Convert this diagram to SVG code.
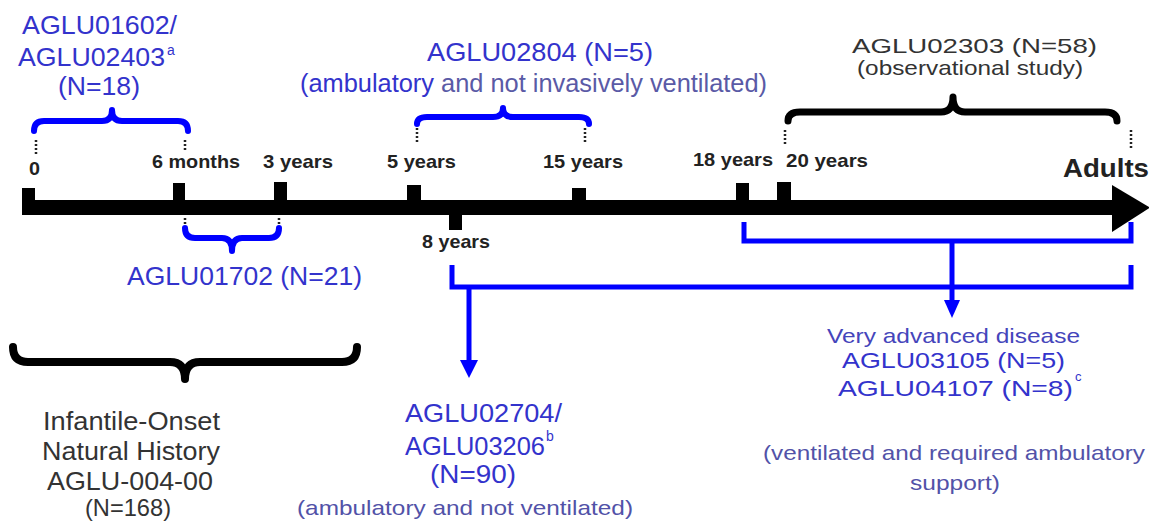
<svg xmlns="http://www.w3.org/2000/svg" width="1149" height="523" viewBox="0 0 1149 523">
<style>
text{font-family:"Liberation Sans",Arial,sans-serif}
.b{fill:#3333cc;font-size:25px}
.m{fill:#5252a8;font-size:21px}
.g{fill:#333333;font-size:25px}
.gs{fill:#333333;font-size:21px}
.t{fill:#222222;font-size:19px;font-weight:bold}
.sup{font-size:14px}
.bl{fill:none;stroke:#0000ff;stroke-width:5}
.br{fill:none;stroke:#0000ff;stroke-width:6;stroke-linecap:round;stroke-linejoin:round}
.bk{fill:none;stroke:#000;stroke-width:7;stroke-linecap:round;stroke-linejoin:round}
.dot{fill:none;stroke:#222;stroke-width:2.5;stroke-dasharray:2 2}
.tick{fill:#000}
</style>

<g id="axis">
  <rect class="tick" x="22" y="200" width="1093" height="15"/>
  <polygon class="tick" points="1112,185 1150,207.5 1112,232"/>
  <rect class="tick" x="22" y="188" width="13" height="27"/>
  <rect class="tick" x="173" y="183" width="12" height="20"/>
  <rect class="tick" x="274" y="182" width="13" height="21"/>
  <rect class="tick" x="407" y="185" width="14" height="18"/>
  <rect class="tick" x="572" y="188" width="14" height="15"/>
  <rect class="tick" x="449" y="212" width="13" height="18"/>
  <rect class="tick" x="736" y="183" width="13" height="20"/>
  <rect class="tick" x="777" y="182" width="14" height="21"/>
  <path class="dot" d="M36,140V155 M185,140V152 M185,218V233 M279,218V233 M417,128V143 M585,128V143 M785,130V144 M1131,130V148"/>
  <text class="t" x="29" y="175" textLength="11" lengthAdjust="spacingAndGlyphs">0</text>
  <text class="t" x="152" y="168" textLength="88" lengthAdjust="spacingAndGlyphs">6 months</text>
  <text class="t" x="263" y="168" textLength="70" lengthAdjust="spacingAndGlyphs">3 years</text>
  <text class="t" x="387" y="168" textLength="69" lengthAdjust="spacingAndGlyphs">5 years</text>
  <text class="t" x="543" y="168" textLength="80" lengthAdjust="spacingAndGlyphs">15 years</text>
  <text class="t" x="693" y="166" textLength="80" lengthAdjust="spacingAndGlyphs">18 years</text>
  <text class="t" x="786" y="167" textLength="82" lengthAdjust="spacingAndGlyphs">20 years</text>
  <text class="t" x="422" y="248" textLength="68" lengthAdjust="spacingAndGlyphs">8 years</text>
  <text class="t" x="1063" y="177" style="font-size:25px" textLength="86" lengthAdjust="spacingAndGlyphs">Adults</text>
</g>

<g id="node-aglu01602">
  <path class="br" d="M34,131 Q34,121 44,121 L102,121 Q112,121 112,110 Q112,121 122,121 L178,121 Q188,121 188,131"/>
  <text class="b" style="font-size:26px" x="22" y="34" textLength="155" lengthAdjust="spacingAndGlyphs">AGLU01602/</text>
  <text class="b" style="font-size:26px" x="18" y="66" textLength="147" lengthAdjust="spacingAndGlyphs">AGLU02403</text>
  <text class="b sup" x="167" y="55">a</text>
  <text class="b" style="font-size:25px" x="58" y="95" textLength="82" lengthAdjust="spacingAndGlyphs">(N=18)</text>
</g>

<g id="node-aglu01702">
  <path class="br" d="M185,228 Q185,238 195,238 L222,238 Q232,238 232,251 Q232,238 242,238 L269,238 Q279,238 279,228"/>
  <text class="b" x="127" y="285" textLength="235" lengthAdjust="spacingAndGlyphs">AGLU01702 (N=21)</text>
</g>

<g id="node-aglu02804">
  <path class="br" d="M417,124 Q417,117 427,117 L493,117 Q503,117 503,108 Q503,117 513,117 L579,117 Q589,117 589,124"/>
  <text class="b" x="427" y="61" textLength="226" lengthAdjust="spacingAndGlyphs">AGLU02804 (N=5)</text>
  <text class="b" x="300" y="92" textLength="467" lengthAdjust="spacingAndGlyphs">(ambulatory<tspan fill="#5a5aa6"> and not invasively ventilated)</tspan></text>
</g>

<g id="node-aglu02303">
  <path class="bk" d="M788,121 Q788,112 800,112 L941,112 Q953,112 953,97 Q953,112 965,112 L1105,112 Q1117,112 1117,121"/>
  <text class="gs" x="852" y="53" textLength="245" lengthAdjust="spacingAndGlyphs">AGLU02303 (N=58)</text>
  <text class="gs" x="857" y="75" textLength="226" lengthAdjust="spacingAndGlyphs">(observational study)</text>
</g>

<g id="node-infantile">
  <path class="bk" style="stroke-width:8" d="M13,347 Q13,362 28,362 L170,362 Q185,362 185,379 Q185,362 200,362 L342,362 Q357,362 357,347"/>
  <text class="g" x="43" y="430" textLength="177" lengthAdjust="spacingAndGlyphs">Infantile-Onset</text>
  <text class="g" x="42" y="460" textLength="178" lengthAdjust="spacingAndGlyphs">Natural History</text>
  <text class="g" x="47" y="490" textLength="166" lengthAdjust="spacingAndGlyphs">AGLU-004-00</text>
  <text class="g" style="font-size:24px" x="85" y="516" textLength="86" lengthAdjust="spacingAndGlyphs">(N=168)</text>
</g>

<g id="node-aglu02704">
  <text class="b" x="405" y="422" textLength="157" lengthAdjust="spacingAndGlyphs">AGLU02704/</text>
  <text class="b" x="405" y="455" textLength="140" lengthAdjust="spacingAndGlyphs">AGLU03206</text>
  <text class="b sup" x="546" y="441">b</text>
  <text class="b" x="430" y="483" textLength="86" lengthAdjust="spacingAndGlyphs">(N=90)</text>
  <text class="m" x="297" y="515" textLength="336" lengthAdjust="spacingAndGlyphs">(ambulatory and not ventilated)</text>
</g>

<g id="node-advanced">
  <text class="m" style="fill:#4545bb" x="827" y="343" textLength="253" lengthAdjust="spacingAndGlyphs">Very advanced disease</text>
  <text class="b" style="font-size:22px" x="842" y="368" textLength="223" lengthAdjust="spacingAndGlyphs">AGLU03105 (N=5)</text>
  <text class="b" style="font-size:22px" x="838" y="396" textLength="235" lengthAdjust="spacingAndGlyphs">AGLU04107 (N=8)</text>
  <text class="b" style="font-size:13px" x="1075" y="381">c</text>
  <text class="m" x="763" y="460" textLength="382" lengthAdjust="spacingAndGlyphs">(ventilated and required ambulatory</text>
  <text class="m" x="910" y="490" textLength="90" lengthAdjust="spacingAndGlyphs">support)</text>
</g>

<g id="connectors">
  <path class="bl" d="M744,222 V241 H1131 V222"/>
  <path class="bl" d="M952,241 V301"/>
  <polygon fill="#0000ff" points="944,300 960,300 952,318"/>
  <path class="bl" d="M452,265 V287 H1131 V265"/>
  <path class="bl" d="M469,287 V361"/>
  <polygon fill="#0000ff" points="460,360 478,360 469,378"/>
</g>
</svg>
